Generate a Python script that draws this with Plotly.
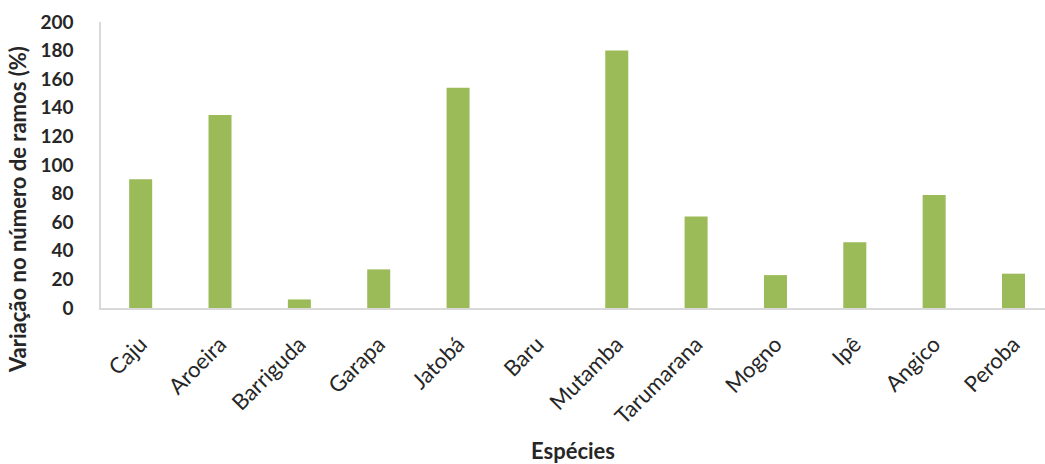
import plotly.graph_objects as go

# Species and the change in number of branches (%)
especies = ["Caju", "Aroeira", "Barriguda", "Garapa", "Jatobá", "Baru",
            "Mutamba", "Tarumarana", "Mogno", "Ipê", "Angico", "Peroba"]
variacao = [90, 135, 6, 27, 154, 0, 180, 64, 23, 46, 79, 24]

y_ticks = [0, 20, 40, 60, 80, 100, 120, 140, 160, 180, 200]

FONT = "Lato"
TEXT = "#262626"

fig = go.Figure(
    go.Bar(
        x=especies,
        y=variacao,
        width=0.29,
        marker=dict(color="#9BBB59", line=dict(width=0)),
    )
)

fig.update_layout(
    width=1045,
    height=464,
    margin=dict(l=101, r=0, t=22, b=156),
    paper_bgcolor="white",
    plot_bgcolor="white",
    showlegend=False,
    font=dict(family=FONT, color=TEXT),
)

fig.update_xaxes(
    range=[-0.5, 11.397],
    showline=True,
    linecolor="#D9D9D9",
    linewidth=1.5,
    showgrid=False,
    ticks="",
    tickangle=-45,
    tickfont=dict(family=FONT, size=22, color=TEXT),
    ticklabelstandoff=13,
    title=dict(text="<b>Espécies</b>", font=dict(family=FONT, size=22, color=TEXT), standoff=16),
)

fig.update_yaxes(
    range=[0, 200],
    tickvals=y_ticks,
    showline=True,
    linecolor="#D9D9D9",
    linewidth=1.5,
    showgrid=False,
    zeroline=False,
    ticks="",
    tickfont=dict(family=FONT, size=19, color=TEXT, weight="bold"),
    ticklabelstandoff=22,
)

# Vertical y-axis title placed as an annotation
fig.add_annotation(
    text="<b>Variação no número de ramos (%)</b>",
    xref="paper", yref="paper",
    x=(18 - 101) / 944, y=(308 - 210) / 286,
    xanchor="center", yanchor="middle",
    textangle=-90,
    showarrow=False,
    font=dict(family=FONT, size=22, color=TEXT),
)

fig.write_html("out.html")
